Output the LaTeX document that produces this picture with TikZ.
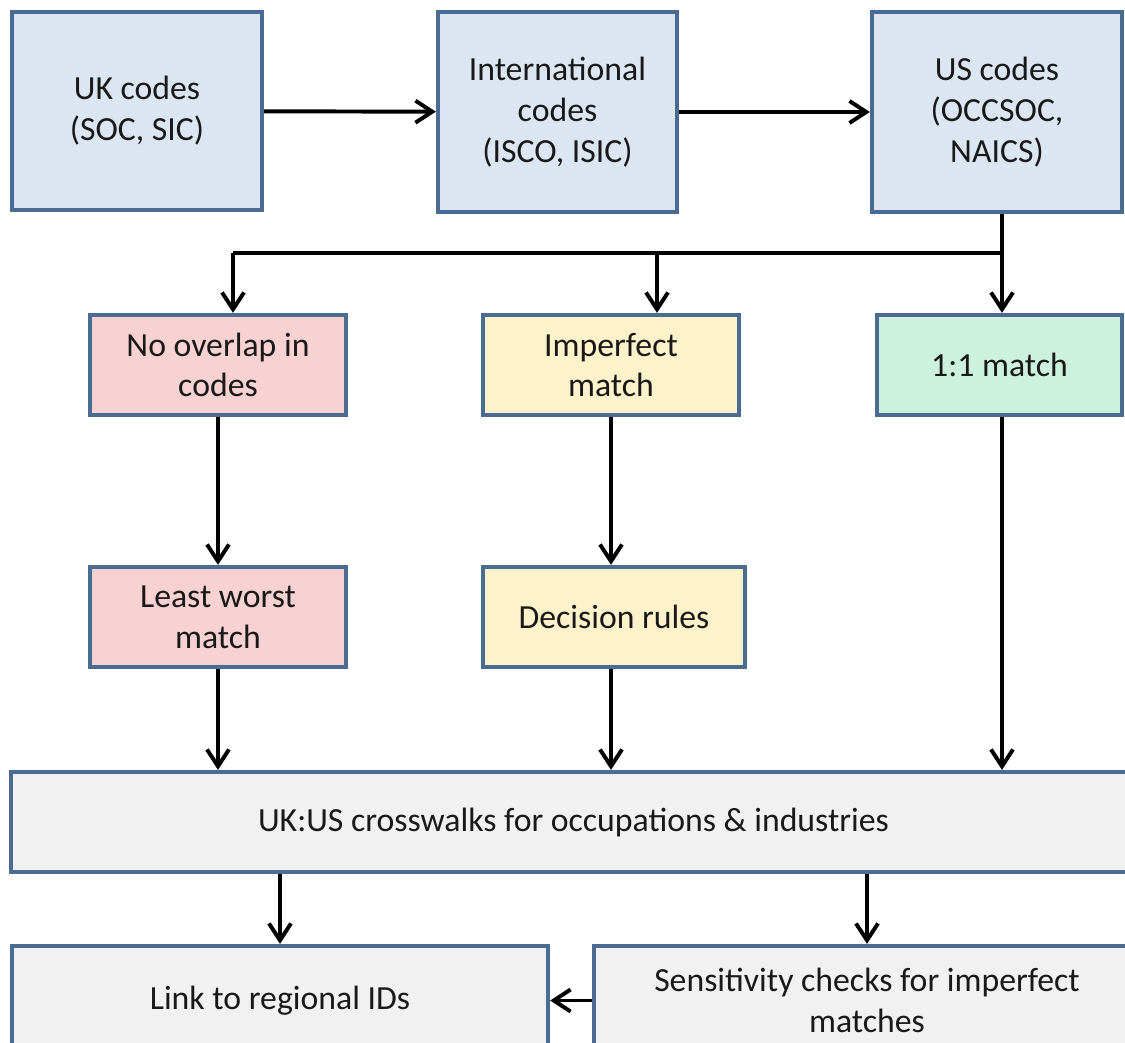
\documentclass[tikz,border=0pt]{standalone}
\usepackage{fontspec}
\setmainfont{Carlito}
\usepackage{xcolor}
\usepackage{tikz}
\usetikzlibrary{arrows.meta, positioning, calc}

\definecolor{edgeblue}{HTML}{4A6C93}
\definecolor{codefill}{HTML}{DCE6F2}
\definecolor{redfill}{HTML}{F8D2D2}
\definecolor{yellowfill}{HTML}{FDF2CA}
\definecolor{greenfill}{HTML}{CDF1DF}
\definecolor{greyfill}{HTML}{F1F1F1}

\begin{document}
\begin{tikzpicture}[
    x=0.025cm, y=-0.025cm,
    box/.style={draw=edgeblue, line width=3pt, align=center, inner sep=2pt,
        text=black!90, font=\fontsize{24}{29}\selectfont},
    codebox/.style={box, fill=codefill},
    redbox/.style={box, fill=redfill, minimum width=6.4cm, minimum height=2.5cm},
    yellowbox/.style={box, fill=yellowfill, minimum height=2.5cm},
    greenbox/.style={box, fill=greenfill, minimum height=2.5cm},
    greybox/.style={box, fill=greyfill},
    arrow/.style={-{Straight Barb[length=0.42cm, width=0.55cm, line width=2.8pt]}, line width=2.8pt, black},
    conn/.style={line width=2.8pt, black}
]
\path[use as bounding box, clip] (0,0) rectangle (1125,1043);

% Code systems
\node[codebox, minimum width=6.25cm, minimum height=4.95cm] (uk) at (137,111) {UK codes\\(SOC, SIC)};
\node[codebox, minimum width=5.975cm, minimum height=5cm] (intl) at (557.5,112) {International\\codes\\(ISCO, ISIC)};
\node[codebox, minimum width=6.25cm, minimum height=5cm] (us) at (997,112) {US codes\\(OCCSOC,\\NAICS)};

\draw[arrow] (uk) -- (intl);
\draw[arrow] (intl) -- (us);

% Match types
\node[redbox] (nooverlap) at (218,365) {No overlap in\\codes};
\node[yellowbox, minimum width=6.4cm] (imperfect) at (611,365) {Imperfect\\match};
\node[greenbox, minimum width=6.125cm] (oneone) at (999.5,365) {1:1 match};

\coordinate (jr) at (1002,253);
\coordinate (jm) at (657,253);
\coordinate (jl) at (233,253);
\draw[conn] (us.south -| jr) -- (jr) -- (jl);
\draw[arrow] (jl) -- (jl |- nooverlap.north);
\draw[arrow] (jm) -- (jm |- imperfect.north);
\draw[arrow] (jr) -- (jr |- oneone.north);

% Handling
\node[redbox] (leastworst) at (218,617) {Least worst\\match};
\node[yellowbox, minimum width=6.55cm] (decision) at (614,617) {Decision rules};

\draw[arrow] (nooverlap) -- (leastworst);
\draw[arrow] (imperfect.south) -- (imperfect.south |- decision.north);

% Crosswalks
\node[greybox, minimum width=28.1cm, minimum height=2.5cm] (cross) at (573.5,822) {UK:US crosswalks for occupations \& industries};

\draw[arrow] (leastworst.south) -- (leastworst.south |- cross.north);
\draw[arrow] (imperfect.south |- decision.south) -- (imperfect.south |- cross.north);
\draw[arrow] (oneone.south -| jr) -- (jr |- cross.north);

% Outputs
\node[greybox, minimum width=13.4cm, minimum height=2.725cm] (link) at (280,1000.5) {Link to regional IDs};
\node[greybox, minimum width=13.65cm, minimum height=2.725cm] (sens) at (867,1000.5) {Sensitivity checks for imperfect\\matches};

\draw[arrow] (link.north |- cross.south) -- (link.north);
\draw[arrow] (sens.north |- cross.south) -- (sens.north);
\draw[arrow] (sens) -- (link);

\end{tikzpicture}
\end{document}
